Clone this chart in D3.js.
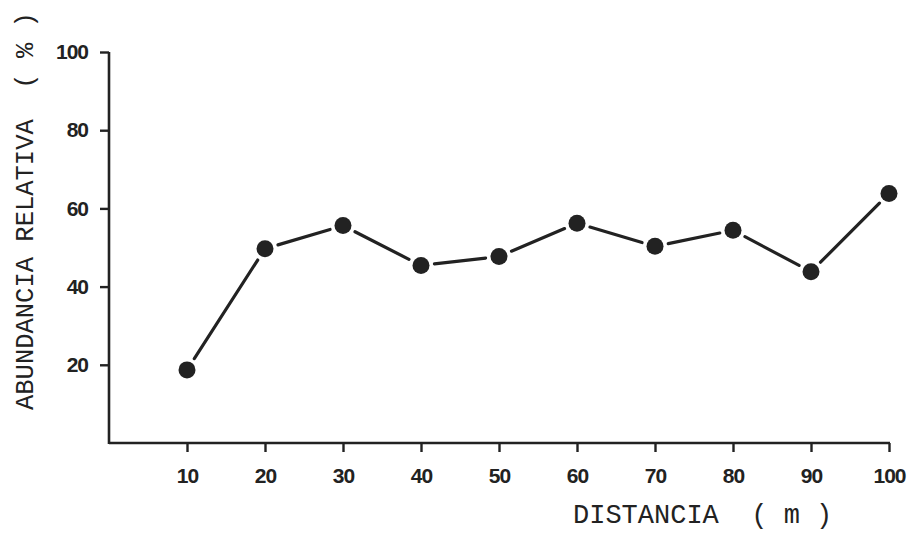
<!DOCTYPE html>
<html>
<head>
<meta charset="utf-8">
<script src="https://cdn.jsdelivr.net/npm/d3@7"></script>
<style>
  body { margin: 0; background: #fff; }
  svg { display: block; }
</style>
</head>
<body>
<script>
var distancia = [10, 20, 30, 40, 50, 60, 70, 80, 90, 100]
var abundancia = [18.7, 49.7, 55.6, 45.4, 47.7, 56.2, 50.3, 54.4, 43.8, 63.8]
var yTicks = [20, 40, 60, 80, 100]
var xLabel = "DISTANCIA  ( m )"
var yLabel = "ABUNDANCIA RELATIVA  ( % )"

var width = 914, height = 533
var ink = "#222"

var x = d3.scaleLinear().domain([0, 100]).range([109, 889])
var y = d3.scaleLinear().domain([0, 100]).range([443, 52])

var svg = d3.select("body").append("svg")
    .attr("width", width)
    .attr("height", height)

// x axis
var xAxis = svg.append("g")
    .attr("transform", "translate(0," + y(0) + ")")
    .call(d3.axisBottom(x).tickValues(distancia).tickSize(9).tickSizeOuter(0).tickPadding(16))
xAxis.select(".domain").attr("stroke", ink).attr("stroke-width", 2.6)
    .attr("d", "M" + x(0) + ",0H" + (x(100) + 1))
xAxis.selectAll(".tick line").attr("stroke", ink).attr("stroke-width", 2.4)
xAxis.selectAll(".tick text")
    .attr("fill", ink)
    .style("font-family", "'Liberation Sans', Arial, sans-serif")
    .style("font-weight", "bold")
    .style("font-size", "21px")
    .style("letter-spacing", "-1px")

// y axis
var yAxis = svg.append("g")
    .attr("transform", "translate(" + x(0) + ",0)")
    .call(d3.axisLeft(y).tickValues(yTicks).tickSize(9).tickSizeOuter(0).tickPadding(12))
yAxis.select(".domain").attr("stroke", ink).attr("stroke-width", 2.6)
    .attr("d", "M0," + y(100) + "V" + (y(0) + 1))
yAxis.selectAll(".tick line").attr("stroke", ink).attr("stroke-width", 2.4)
yAxis.selectAll(".tick text")
    .attr("fill", ink)
    .style("font-family", "'Liberation Sans', Arial, sans-serif")
    .style("font-weight", "bold")
    .style("font-size", "21px")
    .style("letter-spacing", "-1px")

// line segments, stopped short of each dot
var r = 8.5, gap = 5
var pts = distancia.map(function(d, i) { return [x(d), y(abundancia[i])] })
var segs = d3.pairs(pts).map(function(p) {
  var dx = p[1][0] - p[0][0], dy = p[1][1] - p[0][1]
  var len = Math.sqrt(dx * dx + dy * dy), k = (r + gap) / len
  return [p[0][0] + dx * k, p[0][1] + dy * k, p[1][0] - dx * k, p[1][1] - dy * k]
})

svg.append("g").selectAll("line")
    .data(segs)
    .enter().append("line")
    .attr("x1", function(d) { return d[0] })
    .attr("y1", function(d) { return d[1] })
    .attr("x2", function(d) { return d[2] })
    .attr("y2", function(d) { return d[3] })
    .attr("stroke", ink)
    .attr("stroke-width", 3.2)
    .attr("stroke-linecap", "round")

svg.append("g").selectAll("circle")
    .data(pts)
    .enter().append("circle")
    .attr("cx", function(d) { return d[0] })
    .attr("cy", function(d) { return d[1] })
    .attr("r", r)
    .attr("fill", ink)

// axis titles (typewriter)
svg.append("text")
    .attr("x", 573)
    .attr("y", 523)
    .attr("fill", ink)
    .style("font-family", "'Courier New', 'Liberation Mono', monospace")
    .style("font-size", "27px")
    .attr("xml:space", "preserve")
    .text(xLabel)

svg.append("text")
    .attr("transform", "translate(33,410) rotate(-90)")
    .attr("fill", ink)
    .style("font-family", "'Courier New', 'Liberation Mono', monospace")
    .style("font-size", "25.5px")
    .attr("xml:space", "preserve")
    .text(yLabel)
</script>
</body>
</html>
